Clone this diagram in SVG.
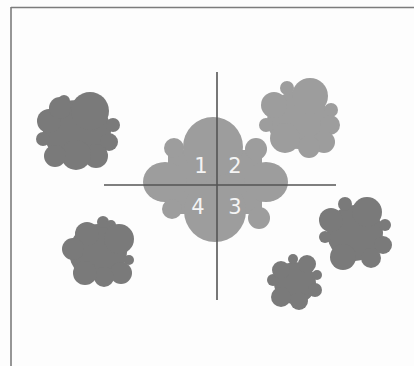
<svg xmlns="http://www.w3.org/2000/svg" width="414" height="366" viewBox="0 0 414 366">
<style>
.dark{fill:#7a7a7a}
.light{fill:#9d9d9d}
.frame{stroke:#7c7c7c;stroke-width:1.6;fill:none}
.axis{stroke:#555;stroke-width:1.6}
.num{font-family:"DejaVu Sans","Liberation Sans",sans-serif;font-size:21px;fill:#f4f4f4;text-anchor:middle}
</style>
<rect width="414" height="366" fill="#fdfdfd"/>
<g id="frame">
<line class="frame" x1="11" y1="7.5" x2="414" y2="7.5"/>
<line class="frame" x1="11" y1="7" x2="11" y2="366"/>
</g>
<g id="tree-topleft" class="dark">
<ellipse cx="77" cy="131" rx="34" ry="31"/>
<circle cx="64" cy="101" r="6"/>
<circle cx="90" cy="111" r="19"/>
<circle cx="113" cy="125" r="7"/>
<circle cx="109" cy="142" r="9"/>
<circle cx="96" cy="156" r="12"/>
<circle cx="76" cy="155" r="15"/>
<circle cx="55" cy="156" r="11"/>
<circle cx="43" cy="139" r="7"/>
<circle cx="49" cy="121" r="12"/>
<circle cx="60" cy="108" r="11"/>
</g>
<g id="tree-topright" class="light">
<ellipse cx="298" cy="120" rx="31" ry="29"/>
<circle cx="287" cy="88" r="7"/>
<circle cx="310" cy="96" r="18"/>
<circle cx="331" cy="110" r="7"/>
<circle cx="330" cy="125" r="10"/>
<circle cx="324" cy="142" r="11"/>
<circle cx="309" cy="147" r="11"/>
<circle cx="285" cy="138" r="15"/>
<circle cx="266" cy="125" r="7"/>
<circle cx="274" cy="105" r="13"/>
</g>
<g id="tree-bottomleft" class="dark">
<ellipse cx="98" cy="252" rx="29" ry="28"/>
<circle cx="87" cy="234" r="12"/>
<circle cx="103" cy="222" r="6"/>
<circle cx="111" cy="225" r="5"/>
<circle cx="119" cy="239" r="15"/>
<circle cx="129" cy="260" r="5"/>
<circle cx="121" cy="273" r="11"/>
<circle cx="104" cy="277" r="10"/>
<circle cx="85" cy="273" r="12"/>
<circle cx="73" cy="249" r="11"/>
</g>
<g id="tree-right" class="dark">
<ellipse cx="355" cy="233" rx="28" ry="28"/>
<circle cx="345" cy="204" r="7"/>
<circle cx="367" cy="212" r="15"/>
<circle cx="385" cy="225" r="6"/>
<circle cx="383" cy="245" r="9"/>
<circle cx="371" cy="258" r="10"/>
<circle cx="343" cy="257" r="13"/>
<circle cx="325" cy="237" r="6"/>
<circle cx="331" cy="220" r="12"/>
</g>
<g id="tree-small" class="dark">
<circle cx="295" cy="283" r="21"/>
<circle cx="293" cy="259" r="5"/>
<circle cx="307" cy="264" r="9"/>
<circle cx="317" cy="275" r="5"/>
<circle cx="315" cy="290" r="7"/>
<circle cx="299" cy="301" r="9"/>
<circle cx="281" cy="297" r="10"/>
<circle cx="273" cy="280" r="6"/>
<circle cx="281" cy="270" r="9"/>
</g>
<g id="tree-center" class="light">
<rect x="168" y="150" width="94" height="64" rx="6"/>
<circle cx="213" cy="147" r="30"/>
<circle cx="174" cy="148" r="10"/>
<circle cx="256" cy="149" r="11"/>
<ellipse cx="165" cy="182" rx="22" ry="20"/>
<ellipse cx="266" cy="182" rx="22" ry="20"/>
<circle cx="172" cy="209" r="10"/>
<circle cx="259" cy="218" r="11"/>
<circle cx="215" cy="211" r="31"/>
</g>
<g id="axes">
<line class="axis" x1="217" y1="72" x2="217" y2="300"/>
<line class="axis" x1="104" y1="185" x2="336" y2="185"/>
</g>
<g id="labels">
<text class="num" x="201" y="173">1</text>
<text class="num" x="235" y="173">2</text>
<text class="num" x="198" y="214">4</text>
<text class="num" x="235" y="214">3</text>
</g>
</svg>
